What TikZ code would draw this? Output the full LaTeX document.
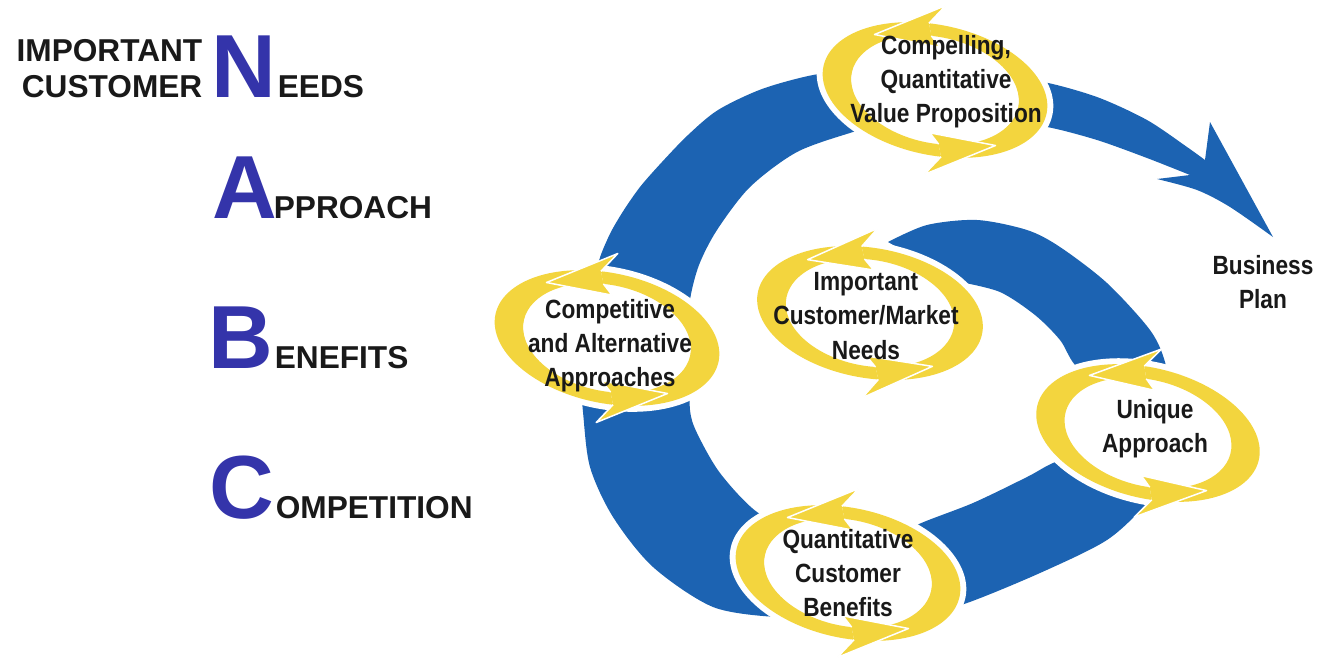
\documentclass[tikz,border=0pt]{standalone}
\usepackage{fontspec}
\setmainfont{Liberation Sans}
\newfontfamily\narrowsans[FakeStretch=0.86]{Liberation Sans}
\usetikzlibrary{backgrounds}
\definecolor{nabcblue}{RGB}{52,52,170}
\definecolor{loopblue}{RGB}{28,99,178}
\definecolor{loopyellow}{RGB}{243,213,62}

\begin{document}
\begin{tikzpicture}[
    x=0.1mm, y=-0.1mm,
    initial/.style={font=\bfseries\fontsize{25.5}{26}\selectfont, text=nabcblue, inner sep=0pt, anchor=base west},
    capword/.style={font=\bfseries\fontsize{9}{10}\selectfont, text=black!90, inner sep=0pt, anchor=base west},
    steplabel/.style={font=\narrowsans\bfseries\fontsize{7.5}{9.7}\selectfont, align=center, text=black!90, inner sep=0pt},
    band/.style={fill=loopblue},
    ringedge/.style={draw=white, line width=0.15mm, line join=round}
]
\useasboundingbox (0,0) rectangle (1320,657);

% NABC headings
\node[capword, anchor=base east] (important) at (203,61) {IMPORTANT};
\node[capword, anchor=base east] (customer) at (203,97) {CUSTOMER};
\node[initial] (N) at (211,97) {N};
\node[capword] (eeds) at (N.base east) {EEDS};
\node[initial] (A) at (212,218) {A};
\node[capword, xshift=-0.5mm] (pproach) at (A.base east) {PPROACH};
\node[initial] (B) at (208,368) {B};
\node[capword] (enefits) at (B.base east) {ENEFITS};
\node[initial] (C) at (209,518) {C};
\node[capword] (ompetition) at (C.base east) {OMPETITION};

% Steps of the loop
\node[steplabel] (compel) at (946,82) {Compelling,\\Quantitative\\Value Proposition};
\node[steplabel] (compet) at (610,346) {Competitive\\and Alternative\\Approaches};
\node[steplabel] (needs) at (866,316) {Important\\Customer/Market\\Needs};
\node[steplabel] (unique) at (1155,429) {Unique\\Approach};
\node[steplabel] (benefit) at (848,573) {Quantitative\\Customer\\Benefits};
\node[steplabel] (plan) at (1263,282) {Business\\Plan};

\begin{scope}[on background layer]
% blue bands of the spiral
\fill[band] plot[smooth] coordinates {(888,242) (927,225) (977,220) (1027,230) (1060,247) (1107,283) (1150,330) (1165,362) (1170,400)}
    -- plot[smooth] coordinates {(1110,400) (1075,365) (1060,340) (1035,315) (1000,292) (960,282)} -- cycle;
\fill[band] plot[smooth] coordinates {(920,615) (967,603) (1040,573) (1107,540) (1147,503) (1170,470)}
    -- plot[smooth] coordinates {(1090,450) (1053,463) (1027,477) (973,503) (917,525) (900,540)} -- cycle;
\fill[band] plot[smooth] coordinates {(580,370) (583,412) (590,467) (613,517) (653,567) (713,607) (777,617) (800,612)}
    -- plot[smooth] coordinates {(805,535) (757,512) (720,473) (697,433) (690,410) (690,370)} -- cycle;
\fill[band] plot[smooth] coordinates {(595,330) (597,270) (608,238) (622,213) (640,187) (662,162) (688,135) (718,110) (762,89) (813,75) (860,70)}
    -- plot[smooth] coordinates {(880,125) (853,132) (797,152) (750,187) (717,230) (699,265) (690,300) (690,330)} -- cycle;
\fill[band] plot[smooth] coordinates {(1015,84) (1043,82) (1097,97) (1147,120) (1187,147) (1205,160)}
    -- (1210,122) -- (1273,237)
    -- plot[smooth] coordinates {(1273,237) (1230,207) (1197,190) (1157,179)}
    -- (1190,175)
    -- plot[smooth] coordinates {(1190,175) (1147,158) (1097,140) (1047,127) (1015,126)} -- cycle;

% yellow cycle around each step
\foreach \step/\dx/\dy/\tilt in {compel/-11/8/-12, compet/-3/-8/-12, needs/4/-3/-10, unique/-7/4/-14, benefit/0/0/-12}{
  \begin{scope}[shift={(\step.center)}, shift={(\dx,\dy)}, x=0.1mm, y=0.1mm, rotate=\tilt]
    \fill[white] (0,0) ellipse[x radius=120, y radius=71];
    \foreach \s in {0,180}
      \fill[loopyellow] ({\s-75}:114 and 65) arc[start angle=\s-75, end angle=\s+100, x radius=114, y radius=65]
        -- ({\s+100}:85 and 53) arc[start angle=\s+100, end angle=\s-75, x radius=85, y radius=53] -- cycle;
    \foreach \s in {0,180}{
      \fill[loopyellow] ({\s+100}:114 and 65) -- ({\s+93}:134 and 85) -- ({\s+135}:100 and 59)
        -- ({\s+93}:74 and 43) -- ({\s+100}:85 and 53) -- cycle;
      \draw[ringedge] ({\s+100}:114 and 65) -- ({\s+93}:134 and 85) -- ({\s+135}:100 and 59)
        -- ({\s+93}:74 and 43) -- ({\s+100}:85 and 53);
    }
  \end{scope}
}
\end{scope}

\end{tikzpicture}
\end{document}
